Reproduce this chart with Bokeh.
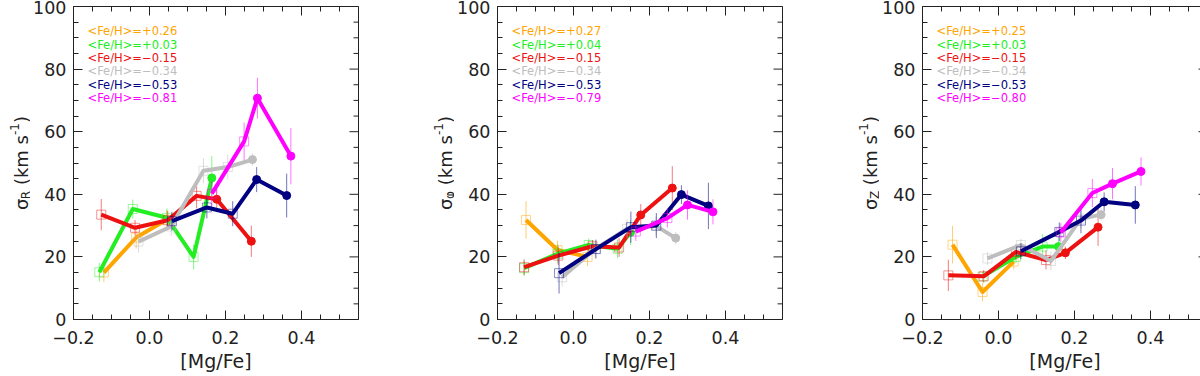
import math
from bokeh.plotting import figure
from bokeh.models import Range1d, FixedTicker, Label, CustomJSTickFormatter
from bokeh.layouts import row
from bokeh.embed import file_html
from bokeh.resources import INLINE

# ---------------- data ----------------
COLORS = ["#FFA500", "#22EE22", "#EE1111", "#BEBEBE", "#000080", "#FF00FF"]
N_FILLED = [0, 1, 2, 1, 2, 2]   # trailing points drawn as filled circles

# sigma_R panel
R_orange_x = [-0.120, -0.035, 0.045]
R_orange_y = [15.0, 26.2, 31.9]
R_orange_e = [3.0, 3.5, 3.0]
R_green_x = [-0.132, -0.044, 0.046, 0.116, 0.164]
R_green_y = [15.1, 35.3, 32.5, 20.0, 45.2]
R_green_e = [3.0, 3.0, 3.0, 4.0, 7.0]
R_red_x = [-0.127, -0.038, 0.048, 0.124, 0.177, 0.268]
R_red_y = [33.5, 29.3, 31.7, 39.5, 38.4, 25.0]
R_red_e = [5.0, 2.5, 3.0, 4.0, 4.0, 5.0]
R_gray_x = [-0.029, 0.057, 0.142, 0.206, 0.271]
R_gray_y = [24.9, 29.7, 47.5, 48.7, 51.1]
R_gray_e = [3.5, 3.0, 4.0, 4.0, 2.0]
R_navy_x = [0.059, 0.151, 0.219, 0.282, 0.361]
R_navy_y = [31.4, 35.8, 33.8, 44.7, 39.6]
R_navy_e = [3.0, 3.5, 4.0, 4.0, 7.0]
R_mag_x = [0.164, 0.249, 0.284, 0.372]
R_mag_y = [40.2, 56.9, 70.7, 52.2]
R_mag_e = [4.0, 6.0, 6.5, 9.0]
R_feh = ["+0.26", "+0.03", "\u22120.15", "\u22120.34", "\u22120.53", "\u22120.81"]

# sigma_phi panel
P_orange_x = [-0.125, -0.042, 0.037]
P_orange_y = [31.8, 22.2, 20.0]
P_orange_e = [6.0, 3.0, 3.0]
P_green_x = [-0.130, -0.042, 0.040, 0.116, 0.150]
P_green_y = [16.4, 21.0, 23.8, 22.6, 27.8]
P_green_e = [2.5, 3.0, 2.0, 3.0, 4.0]
P_red_x = [-0.130, -0.040, 0.050, 0.120, 0.177, 0.260]
P_red_y = [16.7, 20.4, 23.4, 23.0, 33.4, 42.0]
P_red_e = [2.5, 3.0, 2.0, 3.0, 3.5, 7.0]
P_gray_x = [-0.030, 0.057, 0.141, 0.217, 0.269]
P_gray_y = [13.5, 22.5, 29.0, 29.9, 26.0]
P_gray_e = [3.0, 3.0, 3.0, 3.0, 2.0]
P_navy_x = [-0.038, 0.059, 0.151, 0.218, 0.284, 0.355]
P_navy_y = [14.8, 22.5, 29.5, 30.0, 39.9, 36.3]
P_navy_e = [6.5, 3.0, 5.0, 4.0, 3.0, 7.4]
P_mag_x = [0.164, 0.247, 0.300, 0.367]
P_mag_y = [28.1, 32.4, 36.6, 34.4]
P_mag_e = [3.0, 3.0, 4.7, 4.0]
P_feh = ["+0.27", "+0.04", "\u22120.15", "\u22120.34", "\u22120.53", "\u22120.79"]

# sigma_Z panel
Z_orange_x = [-0.121, -0.042, 0.040]
Z_orange_y = [23.9, 8.8, 18.5]
Z_orange_e = [6.0, 3.0, 2.5]
Z_green_x = [-0.042, 0.046, 0.116, 0.158]
Z_green_y = [13.7, 20.0, 23.3, 23.3]
Z_green_e = [1.5, 2.0, 4.0, 3.0]
Z_red_x = [-0.132, -0.039, 0.046, 0.125, 0.176, 0.262]
Z_red_y = [14.1, 13.8, 21.6, 19.0, 21.3, 29.5]
Z_red_e = [5.0, 2.0, 2.5, 3.0, 2.0, 6.0]
Z_gray_x = [-0.029, 0.059, 0.138, 0.217, 0.270]
Z_gray_y = [19.5, 23.8, 18.7, 32.2, 33.5]
Z_gray_e = [2.0, 2.0, 3.0, 3.0, 2.0]
Z_navy_x = [0.059, 0.160, 0.217, 0.278, 0.360]
Z_navy_y = [21.8, 28.0, 31.6, 37.6, 36.6]
Z_navy_e = [2.5, 3.0, 4.0, 3.0, 6.0]
Z_mag_x = [0.164, 0.247, 0.300, 0.375]
Z_mag_y = [27.8, 40.4, 43.4, 47.3]
Z_mag_e = [3.0, 4.5, 5.0, 4.5]
Z_feh = ["+0.25", "+0.03", "\u22120.15", "\u22120.34", "\u22120.53", "\u22120.80"]

X_TICKS = [-0.2, 0.0, 0.2, 0.4]
X_MINOR = [-0.15, -0.1, -0.05, 0.05, 0.1, 0.15, 0.25, 0.3, 0.35, 0.45, 0.5]
Y_TICKS = [0, 20, 40, 60, 80, 100]
Y_MINOR = [5, 10, 15, 25, 30, 35, 45, 50, 55, 65, 70, 75, 85, 90, 95]

# ---------------- layout ----------------
FW, FH = 285, 313
TOP, BOTTOM, LEFT = 6, 57, 40
LABW = 30
XMIN, XMAX = -0.2, 0.55
YMIN, YMAX = 0, 100
PPX = FW / (XMAX - XMIN)
PPY = FH / (YMAX - YMIN)
FONT = "DejaVu Sans"
TXT = "#222222"
MAJ, MIN = 9, 5
NBSP = "\u00a0"

# approximate advance widths (em) for the rotated label pieces
EMW = {"\u03c3": 0.602, "R": 0.695, "Z": 0.686, "\u03c6": 0.681, NBSP: 0.318,
       "(": 0.390, ")": 0.390, "k": 0.579, "m": 0.974, "s": 0.521,
       "-": 0.361, "1": 0.636}


def tw(s, size):
    return sum(EMW.get(c, 0.6) for c in s) * size


def make_ylabel_fig(sub):
    f = figure(frame_width=LABW, frame_height=FH, x_range=Range1d(0, LABW),
               y_range=Range1d(YMIN, YMAX), x_axis_type=None, y_axis_type=None,
               output_backend="svg", toolbar_location=None,
               min_border_left=0, min_border_right=0,
               min_border_top=TOP, min_border_bottom=BOTTOM)
    f.outline_line_color = None
    f.xgrid.visible = False
    f.ygrid.visible = False
    pieces = [("\u03c3", 18, 0), (sub, 12, 4),
              (NBSP + "(km" + NBSP + "s", 18, 0), ("-1", 12, -7), (")", 18, 0)]
    total = sum(tw(t, s) for t, s, _ in pieces)
    pos = -total / 2.0           # pixels from the vertical centre of the frame
    base_x = LABW + LEFT - 49
    for t, s, shift in pieces:
        f.add_layout(Label(x=base_x + shift, y=(YMIN + YMAX) / 2.0 + pos / PPY, text=t,
                           angle=math.pi / 2, text_align="left", text_baseline="alphabetic",
                           text_font=FONT, text_font_size=f"{s}px", text_color=TXT))
        pos += tw(t, s)
    return f


def make_panel(series, feh, right_border):
    p = figure(frame_width=FW, frame_height=FH,
               x_range=Range1d(XMIN, XMAX), y_range=Range1d(YMIN, YMAX),
               output_backend="svg", toolbar_location=None,
               min_border_left=LEFT, min_border_right=right_border,
               min_border_top=TOP, min_border_bottom=BOTTOM)
    p.xgrid.visible = False
    p.ygrid.visible = False
    p.outline_line_color = TXT
    p.outline_line_width = 1

    bx = p.below[0]
    bx.ticker = FixedTicker(ticks=X_TICKS, minor_ticks=X_MINOR)
    bx.formatter = CustomJSTickFormatter(code="return tick.toFixed(1).replace('-', '\\u2212');")
    ly = p.left[0]
    ly.ticker = FixedTicker(ticks=Y_TICKS, minor_ticks=Y_MINOR)
    for ax in (bx, ly):
        ax.major_tick_in = MAJ
        ax.major_tick_out = 0
        ax.minor_tick_in = MIN
        ax.minor_tick_out = 0
        ax.axis_line_color = TXT
        ax.major_tick_line_color = TXT
        ax.minor_tick_line_color = TXT
        ax.major_label_text_font = FONT
        ax.major_label_text_font_size = "17.5px"
        ax.major_label_text_color = TXT
        ax.major_label_standoff = 7
    bx.major_label_standoff = 11
    bx.axis_label = "[Mg/Fe]"
    bx.axis_label_text_font = FONT
    bx.axis_label_text_font_size = "19px"
    bx.axis_label_text_font_style = "normal"
    bx.axis_label_text_color = TXT
    bx.axis_label_standoff = 3

    # inward ticks on the top and right frame edges
    p.segment(x0=X_TICKS, y0=[YMAX] * len(X_TICKS), x1=X_TICKS,
              y1=[YMAX - MAJ / PPY] * len(X_TICKS), line_color=TXT, line_width=1)
    p.segment(x0=X_MINOR, y0=[YMAX] * len(X_MINOR), x1=X_MINOR,
              y1=[YMAX - MIN / PPY] * len(X_MINOR), line_color=TXT, line_width=1)
    p.segment(x0=[XMAX] * len(Y_TICKS), y0=Y_TICKS, x1=[XMAX - MAJ / PPX] * len(Y_TICKS),
              y1=Y_TICKS, line_color=TXT, line_width=1)
    p.segment(x0=[XMAX] * len(Y_MINOR), y0=Y_MINOR, x1=[XMAX - MIN / PPX] * len(Y_MINOR),
              y1=Y_MINOR, line_color=TXT, line_width=1)

    for (xs, ys, es), col, nf in zip(series, COLORS, N_FILLED):
        lo = [y - e for y, e in zip(ys, es)]
        hi = [y + e for y, e in zip(ys, es)]
        p.segment(x0=xs, y0=lo, x1=xs, y1=hi, line_color=col, line_alpha=0.55, line_width=1)
        p.line(xs, ys, line_color=col, line_width=4, line_join="round")
        n = len(xs) - nf
        if n > 0:
            p.scatter(xs[:n], ys[:n], marker="square", size=9, fill_color=None,
                      line_color=col, line_alpha=0.45, line_width=1)
        if nf > 0:
            p.scatter(xs[n:], ys[n:], marker="circle", size=8, fill_color=col,
                      line_color=col)

    for i, (val, col) in enumerate(zip(feh, COLORS)):
        p.add_layout(Label(x=XMIN + 14 / PPX, y=YMAX - (24.7 + 13.4 * i) / PPY,
                           text="<Fe/H>=" + val, text_font=FONT, text_font_size="11.5px",
                           text_color=col, text_baseline="middle", text_align="left"))
    return p


R_series = [(R_orange_x, R_orange_y, R_orange_e), (R_green_x, R_green_y, R_green_e),
            (R_red_x, R_red_y, R_red_e), (R_gray_x, R_gray_y, R_gray_e),
            (R_navy_x, R_navy_y, R_navy_e), (R_mag_x, R_mag_y, R_mag_e)]
P_series = [(P_orange_x, P_orange_y, P_orange_e), (P_green_x, P_green_y, P_green_e),
            (P_red_x, P_red_y, P_red_e), (P_gray_x, P_gray_y, P_gray_e),
            (P_navy_x, P_navy_y, P_navy_e), (P_mag_x, P_mag_y, P_mag_e)]
Z_series = [(Z_orange_x, Z_orange_y, Z_orange_e), (Z_green_x, Z_green_y, Z_green_e),
            (Z_red_x, Z_red_y, Z_red_e), (Z_gray_x, Z_gray_y, Z_gray_e),
            (Z_navy_x, Z_navy_y, Z_navy_e), (Z_mag_x, Z_mag_y, Z_mag_e)]

l1 = make_ylabel_fig("R")
p1 = make_panel(R_series, R_feh, 66)
l2 = make_ylabel_fig("\u03c6")
p2 = make_panel(P_series, P_feh, 67)
l3 = make_ylabel_fig("Z")
p3 = make_panel(Z_series, Z_feh, 1)

layout = row(l1, p1, l2, p2, l3, p3, spacing=0)
open("out.html", "w").write(file_html(layout, INLINE))
